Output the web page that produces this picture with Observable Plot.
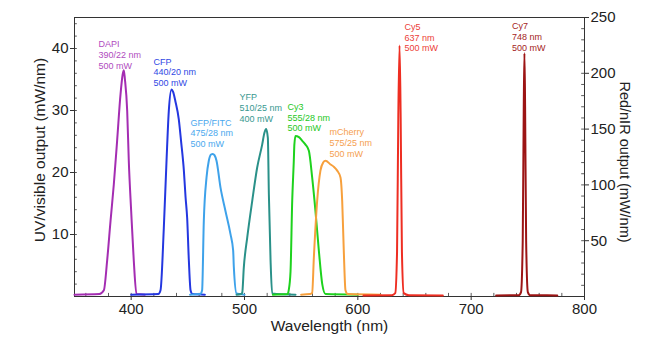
<!DOCTYPE html>
<html>
<head>
<meta charset="utf-8">
<script src="https://cdn.jsdelivr.net/npm/d3@7"></script>
<script src="https://cdn.jsdelivr.net/npm/@observablehq/plot@0.6"></script>
<style>
  html, body { margin: 0; padding: 0; background: #fff; }
  svg { display: block; }
</style>
</head>
<body>
<script>
// ---- Data (wavelength nm, output mW/nm) ----
// UV/visible series (left axis, mW/nm)
const DAPI = [[350,0.3],[372,0.4],[375.9,1],[378.8,5.8],[381.8,12.2],[384.7,18.1],[387.6,25.1],[390.6,32.6],[392.5,35.8],[393.5,36.5],[394.5,35],[396.5,29.9],[397.9,21.9],[400,13.8],[402.3,5.8],[404.7,0.4],[412,0.3]];
const CFP = [[400,0.3],[424,0.4],[425.9,1],[428.8,11],[431.2,21.9],[433.2,29.9],[435.6,33.4],[437,33],[439,31.5],[442,28.6],[444,25.1],[446.5,20.3],[448,16],[449.4,12.7],[450.9,5.8],[452.4,1],[454,0.4],[465,0.3]];
const GFP = [[452,0.3],[461,0.4],[462.6,1],[464.1,12.2],[466.5,19.2],[468.5,21.9],[470.5,22.9],[472,23],[473.5,22.8],[475.3,21.9],[478.8,17.6],[483.2,13.8],[487.6,10.1],[490,7.4],[490.6,4.7],[493,0.5],[500,0.3]];
const YFP = [[493,0.3],[497,0.4],[498,0.6],[499.4,4.7],[502.4,9.5],[506.8,15.4],[511.2,20.8],[515.6,24.5],[517.6,26.4],[519.1,27],[520.6,25.6],[521.5,16.5],[523,5.8],[524.4,0.5],[545,0.3]];
const CY3 = [[525,0.3],[538,0.4],[539,1],[540.6,4],[542.1,15.4],[543.5,21.9],[544,24.5],[545,25.9],[548,25.7],[551,25.1],[553.8,24.5],[556.8,23.5],[559.7,19.2],[562.6,13.8],[565.6,7.4],[568.6,2],[571.5,0.4],[600,0.3]];
const MCHERRY = [[550,0.3],[558,0.4],[559.7,0.6],[561.2,6.3],[564.1,15.4],[567,20.3],[569.4,21.6],[571.5,21.9],[575.9,21.3],[579,20.9],[581.8,20.3],[584.7,19.2],[586.2,15.4],[587.6,7.4],[589.1,1],[591,0.4],[620,0.3]];
// Red/nIR series (right axis, mW/nm)
const CY5 = [[605,1],[630,1.2],[633,3],[634.6,40],[635.7,160],[636.8,225],[637.8,160],[638.9,40],[640.5,3],[645,1.2],[675,1]];
const CY7 = [[722,1],[742,1.2],[744,4],[745.5,50],[746.4,170],[747,218],[747.6,170],[748.5,50],[750,4],[752,1.2],[776,1]];

// Labels
const labelName  = ["DAPI","CFP","GFP/FITC","YFP","Cy3","mCherry","Cy5","Cy7"];
const labelLine2 = ["390/22 nm","440/20 nm","475/28 nm","510/25 nm","555/28 nm","575/25 nm","637 nm","748 nm"];
const labelLine3 = ["500 mW","500 mW","500 mW","400 mW","500 mW","500 mW","500 mW","500 mW"];
const labelX = [371.2, 419.7, 452.4, 495.6, 538, 575, 641.2, 736];
const labelY = [39, 36.2, 26.4, 30.5, 28.9, 24.8, 41.8, 41.9];

// Axes
const xTicks = [400, 500, 600, 700, 800];
const xMinor = d3.range(360, 800, 20);
const leftTicks = [10, 20, 30, 40];
const leftMinor = d3.range(2, 45, 2);
const rightTicks = [50, 100, 150, 200, 250];
const rightMinor = d3.range(10, 250, 10);

const LEFT_MAX = 45, RIGHT_MAX = 250;
const toLeft = v => v * LEFT_MAX / RIGHT_MAX;

const lineColors = ["#a42db2","#2437e0","#3ea2ea","#2a9189","#1ed21e","#f7a03c","#ee2e22","#9c1414"];
const textColors = ["#b04cc0","#3048e4","#4aa8ee","#389890","#1ec81e","#f5a050","#ec4038","#a42424"];

const series = [DAPI, CFP, GFP, YFP, CY3, MCHERRY];
const redSeries = [CY5, CY7];

const labels = labelName.map((n, i) => ({
  text: [n, labelLine2[i], labelLine3[i]].join("\n"),
  x: labelX[i], y: labelY[i], color: textColors[i]
}));

const axisColor = "#333";

const marks = [
  Plot.frame({stroke: axisColor, strokeWidth: 1}),
  // minor ticks (inside)
  Plot.ruleX(xMinor, {x: d => d, y1: 0, y2: 0.5, stroke: axisColor, strokeWidth: 0.8}),
  Plot.ruleY(leftMinor, {y: d => d, x1: 350, x2: 352.5, stroke: axisColor, strokeWidth: 0.8}),
  Plot.ruleY(rightMinor.map(toLeft), {y: d => d, x1: 797.5, x2: 800, stroke: axisColor, strokeWidth: 0.8}),
  // major axes
  Plot.axisX(xTicks, {anchor: "bottom", tickSize: 4, tickPadding: 3, fontSize: 15, label: null, stroke: axisColor}),
  Plot.axisY(leftTicks, {anchor: "left", tickSize: 4, tickPadding: 2, fontSize: 15, label: null, stroke: axisColor}),
  Plot.axisY(rightTicks.map(toLeft), {anchor: "right", tickSize: 4, tickPadding: 2, fontSize: 15, label: null, stroke: axisColor,
    tickFormat: d => String(Math.round(d * RIGHT_MAX / LEFT_MAX))}),
  // axis titles
  Plot.text(["UV/visible output (mW/nm)"], {frameAnchor: "left", textAnchor: "middle", rotate: -90, dx: -34, dy: -7, fontSize: 15.5, fill: "#222"}),
  Plot.text(["Red/nIR output (mW/nm)"], {frameAnchor: "right", textAnchor: "middle", rotate: 90, dx: 40, dy: 5, fontSize: 14.5, fill: "#222"}),
  Plot.text(["Wavelength (nm)"], {frameAnchor: "bottom", textAnchor: "middle", dy: 34, fontSize: 15.5, fill: "#222"})
];

series.forEach((s, i) => {
  marks.push(Plot.line(s, {x: d => d[0], y: d => d[1], stroke: lineColors[i], strokeWidth: 2, curve: "monotone-x"}));
});
redSeries.forEach((s, i) => {
  marks.push(Plot.line(s, {x: d => d[0], y: d => toLeft(d[1]), stroke: lineColors[6 + i], strokeWidth: 2, curve: "monotone-x"}));
});

marks.push(Plot.text(labels, {x: "x", y: "y", text: "text", fill: "color", fontSize: 9, textAnchor: "start", lineAnchor: "middle", lineHeight: 1.19}));

const chart = Plot.plot({
  width: 650, height: 343,
  marginLeft: 74, marginRight: 66, marginTop: 17, marginBottom: 47,
  x: {domain: [350, 800]},
  y: {domain: [0, LEFT_MAX]},
  style: {fontFamily: "'Liberation Sans', Arial, Helvetica, sans-serif", background: "#fff", color: "#222", overflow: "visible"},
  marks
});
document.body.appendChild(chart);
</script>
</body>
</html>
